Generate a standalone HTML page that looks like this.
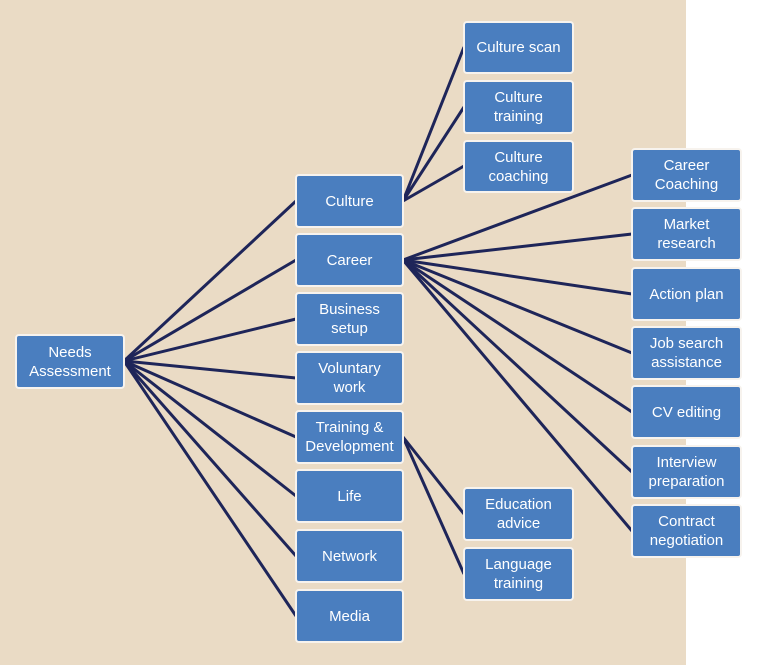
<!DOCTYPE html>
<html><head><style>
body{margin:0;width:760px;height:665px;background:#fff;position:relative;overflow:hidden;font-family:"Liberation Sans",sans-serif}
#bg{position:absolute;left:0;top:0;width:686px;height:665px;background:#eadbc5}
.b{position:absolute;box-sizing:border-box;background:#4a7ebf;border:2px solid #f7f3ee;border-radius:4px;color:#fff;font-size:15px;line-height:19px;display:flex;align-items:center;justify-content:center;text-align:center}
svg{position:absolute;left:0;top:0}
</style></head><body>
<div id="bg"></div>
<svg width="760" height="665"><g stroke="#1e2559" stroke-width="3" fill="none">
<line x1="124" y1="361" x2="296" y2="201"/><line x1="124" y1="361" x2="296" y2="260"/><line x1="124" y1="361" x2="296" y2="319"/><line x1="124" y1="361" x2="296" y2="378"/><line x1="124" y1="361" x2="296" y2="437"/><line x1="124" y1="361" x2="296" y2="496"/><line x1="124" y1="361" x2="296" y2="556"/><line x1="124" y1="361" x2="296" y2="616"/>
<line x1="403" y1="201" x2="464" y2="47"/><line x1="403" y1="201" x2="464" y2="107"/><line x1="403" y1="201" x2="464" y2="166"/>
<line x1="403" y1="260" x2="632" y2="175"/><line x1="403" y1="260" x2="632" y2="234"/><line x1="403" y1="260" x2="632" y2="294"/><line x1="403" y1="260" x2="632" y2="353"/><line x1="403" y1="260" x2="632" y2="412"/><line x1="403" y1="260" x2="632" y2="472"/><line x1="403" y1="260" x2="632" y2="531"/>
<line x1="403" y1="437" x2="464" y2="514"/><line x1="403" y1="437" x2="464" y2="574"/>
</g></svg>
<div class="b" style="left:15px;top:334px;width:110px;height:55px">Needs<br>Assessment</div>
<div class="b" style="left:295px;top:174px;width:109px;height:54px">Culture</div>
<div class="b" style="left:295px;top:233px;width:109px;height:54px">Career</div>
<div class="b" style="left:295px;top:292px;width:109px;height:54px">Business<br>setup</div>
<div class="b" style="left:295px;top:351px;width:109px;height:54px">Voluntary<br>work</div>
<div class="b" style="left:295px;top:410px;width:109px;height:54px">Training &amp;<br>Development</div>
<div class="b" style="left:295px;top:469px;width:109px;height:54px">Life</div>
<div class="b" style="left:295px;top:529px;width:109px;height:54px">Network</div>
<div class="b" style="left:295px;top:589px;width:109px;height:54px">Media</div>
<div class="b" style="left:463px;top:21px;width:111px;height:53px">Culture scan</div>
<div class="b" style="left:463px;top:80px;width:111px;height:54px">Culture<br>training</div>
<div class="b" style="left:463px;top:140px;width:111px;height:53px">Culture<br>coaching</div>
<div class="b" style="left:463px;top:487px;width:111px;height:54px">Education<br>advice</div>
<div class="b" style="left:463px;top:547px;width:111px;height:54px">Language<br>training</div>
<div class="b" style="left:631px;top:148px;width:111px;height:54px">Career<br>Coaching</div>
<div class="b" style="left:631px;top:207px;width:111px;height:54px">Market<br>research</div>
<div class="b" style="left:631px;top:267px;width:111px;height:54px">Action plan</div>
<div class="b" style="left:631px;top:326px;width:111px;height:54px">Job search<br>assistance</div>
<div class="b" style="left:631px;top:385px;width:111px;height:54px">CV editing</div>
<div class="b" style="left:631px;top:445px;width:111px;height:54px">Interview<br>preparation</div>
<div class="b" style="left:631px;top:504px;width:111px;height:54px">Contract<br>negotiation</div>
</body></html>
